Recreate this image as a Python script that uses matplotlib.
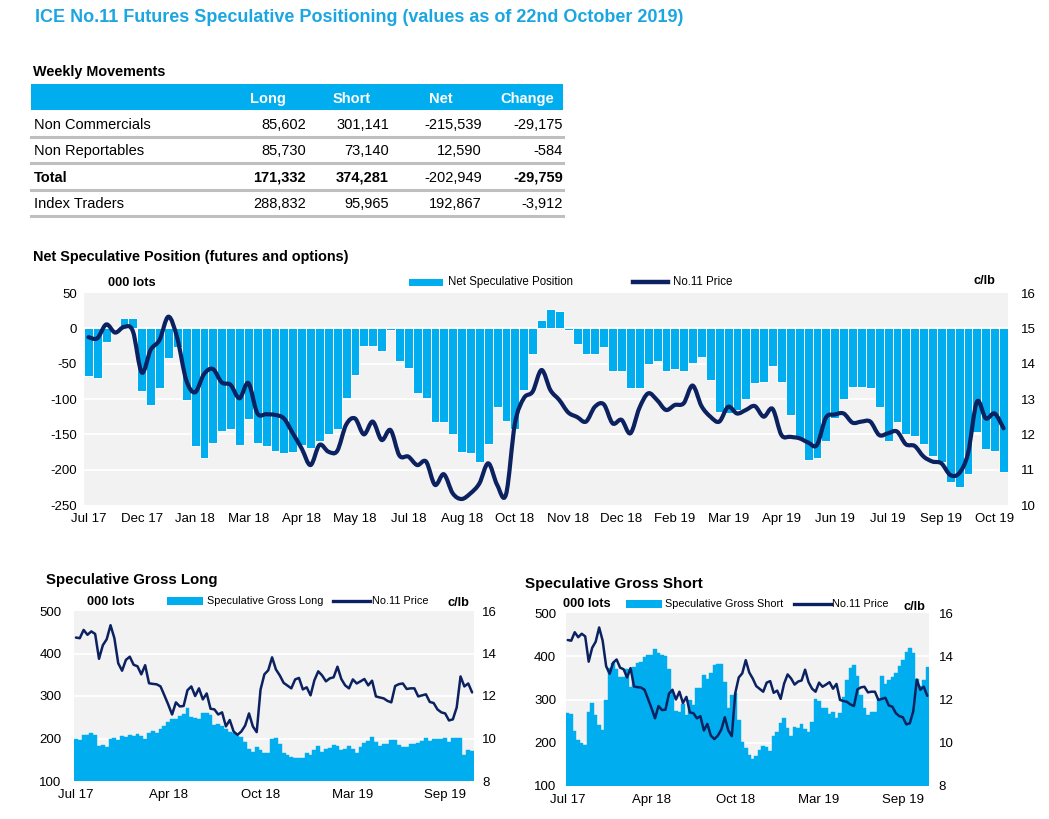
import matplotlib
matplotlib.use("Agg")
import matplotlib.pyplot as plt
import numpy as np
from matplotlib.patches import Rectangle, PathPatch
from matplotlib.lines import Line2D
from matplotlib.path import Path
from matplotlib import font_manager

W, H = 1049, 819
CYAN = "#00AEEF"
TITLE_BLUE = "#1BA6E2"
NAVY = "#0B2160"
BG = "#F2F2F2"
GREY = "#BFBFBF"

# weekly data, Jul 17 -> 22 Oct 19 (000 lots / c/lb)
net_spec = [-68, -70, -19, -1, 15, 15, -89, -108, -84, -42,
            -27, -102, -166, -183, -162, -145, -143, -165, -128, -162,
            -167, -173, -176, -175, -165, -169, -160, -150, -143, -99,
            -66, -25, -25, -32, -3, -46, -56, -91, -98, -133,
            -132, -149, -175, -177, -189, -164, -112, -131, -142, -87,
            -36, 12, 27, 24, -3, -22, -36, -37, -27, -60,
            -61, -84, -84, -50, -46, -60, -57, -60, -49, -40,
            -73, -118, -120, -115, -100, -77, -76, -53, -76, -122,
            -157, -186, -183, -159, -127, -100, -83, -83, -84, -111,
            -160, -133, -150, -152, -164, -180, -189, -218, -225, -206,
            -146, -171, -173, -203]

no11_price = [14.75, 14.72, 15.11, 14.88, 15.04, 14.92, 13.75, 14.39, 14.67, 15.33,
              14.72, 13.54, 13.19, 13.70, 13.85, 13.47, 13.40, 13.02, 13.45, 12.60,
              12.57, 12.55, 12.45, 12.03, 11.60, 11.13, 11.70, 11.51, 11.53, 12.27,
              12.45, 12.00, 12.36, 11.84, 12.12, 11.40, 11.37, 11.13, 11.23, 10.57,
              10.87, 10.33, 10.17, 10.33, 10.61, 11.18, 10.57, 10.30, 12.30, 13.02,
              13.21, 13.82, 13.25, 12.97, 12.62, 12.49, 12.36, 12.78, 12.85, 12.31,
              12.41, 12.03, 12.74, 13.16, 12.97, 12.69, 12.83, 12.88, 13.38, 12.80,
              12.50, 12.36, 12.78, 12.59, 12.69, 12.80, 12.50, 12.72, 11.98, 11.93,
              11.89, 11.77, 11.70, 12.47, 12.56, 12.59, 12.33, 12.36, 12.36, 11.98,
              12.03, 12.08, 11.72, 11.67, 11.37, 11.23, 11.18, 10.85, 10.90, 11.46,
              12.92, 12.45, 12.59, 12.17]

gross_long = [200, 196, 209, 208, 214, 208, 183, 184, 180, 200,
              202, 196, 206, 204, 208, 205, 210, 205, 200, 212,
              217, 213, 223, 229, 239, 247, 247, 253, 257, 271,
              251, 249, 245, 259, 261, 255, 232, 235, 229, 223,
              215, 212, 205, 204, 192, 176, 169, 180, 172, 166,
              166, 200, 201, 187, 167, 161, 157, 153, 155, 155,
              165, 161, 173, 183, 169, 176, 178, 184, 183, 174,
              176, 183, 176, 165, 180, 190, 194, 204, 192, 183,
              187, 186, 196, 196, 184, 181, 181, 187, 188, 190,
              194, 202, 194, 200, 198, 198, 202, 192, 202, 201,
              202, 161, 173, 171]

gross_short = [268, 266, 228, 207, 199, 194, 272, 293, 264, 242,
               229, 298, 372, 385, 370, 352, 353, 370, 330, 374,
               384, 386, 399, 404, 404, 416, 407, 403, 400, 370,
               317, 274, 270, 290, 265, 300, 288, 326, 327, 356,
               347, 361, 380, 381, 381, 340, 281, 311, 314, 253,
               202, 188, 172, 163, 170, 183, 193, 190, 182, 215,
               226, 245, 257, 233, 215, 236, 235, 244, 232, 226,
               249, 301, 296, 280, 280, 267, 270, 257, 268, 305,
               344, 372, 379, 355, 311, 281, 264, 270, 272, 301,
               354, 335, 344, 352, 362, 378, 391, 410, 420, 407,
               348, 332, 346, 374]

main_labels = ["Jul 17", "Dec 17", "Jan 18", "Mar 18", "Apr 18", "May 18",
               "Jul 18", "Aug 18", "Oct 18", "Nov 18", "Dec 18", "Feb 19",
               "Mar 19", "Apr 19", "Jun 19", "Jul 19", "Sep 19", "Oct 19"]
small_labels = ["Jul 17", "Apr 18", "Oct 18", "Mar 19", "Sep 19"]

table_head = ["Long", "Short", "Net", "Change"]
table_rows = ["Non Commercials", "Non Reportables", "Total", "Index Traders"]
table_long = ["85,602", "85,730", "171,332", "288,832"]
table_short = ["301,141", "73,140", "374,281", "95,965"]
table_net = ["-215,539", "12,590", "-202,949", "192,867"]
table_change = ["-29,175", "-584", "-29,759", "-3,912"]

names = {f.name for f in font_manager.fontManager.ttflist}
SANS = "Liberation Sans" if "Liberation Sans" in names else "DejaVu Sans"
NARROW = "Liberation Sans Narrow" if "Liberation Sans Narrow" in names else SANS
plt.rcParams["font.family"] = [SANS, "DejaVu Sans"]
plt.rcParams["axes.unicode_minus"] = False

fig = plt.figure(figsize=(W / 100, H / 100), dpi=100)
renderer = fig.canvas.get_renderer()


def fx(x):
    return x / W


def fy(y):
    return 1 - y / H


def label(x, y, s, size=10, weight="normal", ha="left", color="black", width=None, family=None):
    t = fig.text(fx(x), fy(y), s, fontsize=size, fontweight=weight, ha=ha, va="center",
                 color=color, family=family or [SANS, "DejaVu Sans"])
    if width:
        w = t.get_window_extent(renderer).width
        t.set_fontsize(size * width / w)
    return t


def hbox(x0, y0, x1, y1, color):
    fig.add_artist(Rectangle((fx(x0), fy(y1)), fx(x1) - fx(x0), fy(y0) - fy(y1),
                             transform=fig.transFigure, color=color, lw=0))


def hline(x0, x1, y, color, lw):
    fig.add_artist(Line2D([fx(x0), fx(x1)], [fy(y), fy(y)], transform=fig.transFigure,
                          color=color, lw=lw))


def smooth(xs, ys):
    # bezier curve through every point (like Excel's smoothed line)
    pts = np.column_stack([xs, ys]).astype(float)
    n = len(pts)
    verts, codes = [pts[0]], [Path.MOVETO]
    for i in range(n - 1):
        p0, p1 = pts[max(i - 1, 0)], pts[i]
        p2, p3 = pts[i + 1], pts[min(i + 2, n - 1)]
        verts += [p1 + (p2 - p0) / 6, p2 - (p3 - p1) / 6, p2]
        codes += [Path.CURVE4] * 3
    return Path(verts, codes)


# title
label(35, 18, "ICE No.11 Futures Speculative Positioning (values as of 22nd October 2019)",
      18, "bold", color=TITLE_BLUE, width=648, family=[NARROW, "DejaVu Sans"])

# table
label(33, 72, "Weekly Movements", 10, "bold", width=133)
hbox(31, 84, 563, 110, CYAN)
head_x = [268, 352, 441, 527]
col_right = [306, 389, 482, 563]
row_y = [125, 151, 178, 204]
for hx, s in zip(head_x, table_head):
    label(hx, 99, s, 10.5, "bold", ha="center", color="white")
cols = [table_long, table_short, table_net, table_change]
for i, name in enumerate(table_rows):
    y = row_y[i]
    total = name == "Total"
    label(34, y, name, 10.5, "bold" if total else "normal")
    for j, col in enumerate(cols):
        wt = "bold" if (total and j != 2) else "normal"
        label(col_right[j], y, col[i], 10.5, wt, ha="right")
    hline(31, 563, y + 12, GREY, 2.2)


def panel(rect, vals, ylim, ystep, plim, pstep, labels, every, main, lpad, rpad):
    x0, y0, x1, y1 = rect
    ax = fig.add_axes([fx(x0), fy(y1), fx(x1) - fx(x0), fy(y0) - fy(y1)])
    idx = np.arange(len(vals))
    ax.set_facecolor(BG)
    if main:
        ax.bar(idx, vals, width=1.0, color=CYAN, edgecolor="white", linewidth=0.7, zorder=2)
    else:
        ax.bar(idx, vals, width=1.0, color=CYAN, edgecolor=CYAN, linewidth=0.3, zorder=2)
    ticks = np.arange(ylim[0], ylim[1] + 1, ystep)
    for t in ticks[1:-1]:
        ax.axhline(t, color="white", lw=1.3, zorder=1)
    ax.set_xlim(-0.5, len(vals) - 0.5)
    ax.set_ylim(*ylim)
    ax.set_yticks(ticks)
    ax.set_xticks(idx[::every])
    ax.set_xticklabels(labels)
    ax.tick_params(axis="both", length=0, labelsize=9.5)
    ax.tick_params(axis="x", pad=6)
    ax.tick_params(axis="y", pad=lpad)
    ax2 = ax.twinx()
    if main:
        ax2.add_patch(PathPatch(smooth(idx, no11_price), facecolor="none", edgecolor=NAVY,
                                lw=3.0, capstyle="round", joinstyle="round", zorder=3))
    else:
        ax2.plot(idx, no11_price, color=NAVY, lw=1.8,
                 solid_joinstyle="round", solid_capstyle="round", zorder=3)
    ax2.set_ylim(*plim)
    ax2.set_yticks(np.arange(plim[0], plim[1] + 0.01, pstep))
    ax2.tick_params(axis="y", length=0, labelsize=9.5, pad=rpad)
    for a in (ax, ax2):
        for sp in a.spines.values():
            sp.set_visible(False)
    return ax


def legend(px0, px1, tx0, lx0, lx1, tx1, y, bar_text, tsize, lw):
    hbox(px0, y - 3.5, px1, y + 3.5, CYAN)
    label(tx0, y, bar_text, tsize)
    hline(lx0, lx1, y, NAVY, lw)
    label(tx1, y, "No.11 Price", tsize)


# main chart
label(33, 257, "Net Speculative Position (futures and options)", 10, "bold", width=315)
label(108, 283, "000 lots", 9.2, "bold")
label(973, 281, "c/lb", 9.2, "bold")
legend(409, 443, 448, 633, 668, 673, 282, "Net Speculative Position", 8.3, 3.2)
panel((84, 293, 1008, 505), net_spec, (-250, 50), 50, (10, 16), 1,
      main_labels, 6, True, 5, 9)

# gross long
label(46, 580, "Speculative Gross Long", 11, "bold", width=172)
label(87, 602, "000 lots", 9.2, "bold")
label(447, 603, "c/lb", 9.2, "bold")
legend(167, 203, 207, 333, 370, 372, 601, "Speculative Gross Long", 7.8, 2.4)
panel((74, 611, 474, 781), gross_long, (100, 500), 100, (8, 16), 2,
      small_labels, 24, False, 9, 6)

# gross short
label(525, 584, "Speculative Gross Short", 11, "bold", width=177)
label(563, 604, "000 lots", 9.2, "bold")
label(904, 607, "c/lb", 9.2, "bold")
legend(626, 662, 665, 794, 831, 832, 604, "Speculative Gross Short", 7.8, 2.4)
panel((566, 613, 929, 786), gross_short, (100, 500), 100, (8, 16), 2,
      small_labels, 24, False, 7, 7)

fig.savefig("out.png", dpi=100)
